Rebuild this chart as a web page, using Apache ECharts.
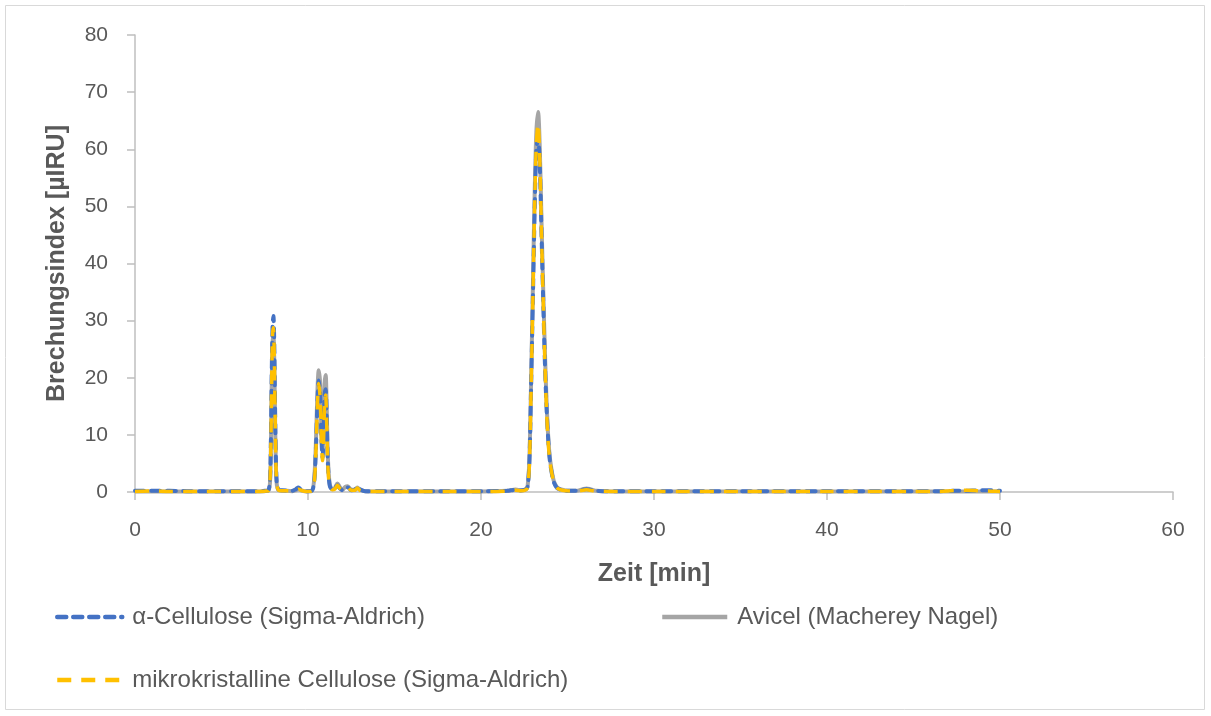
<!DOCTYPE html>
<html>
<head>
<meta charset="utf-8">
<script src="https://cdn.jsdelivr.net/npm/echarts@6/dist/echarts.min.js"></script>
<style>
html,body{margin:0;padding:0;background:#fff;}
#chart{width:1211px;height:716px;}
</style>
</head>
<body>
<div id="chart"></div>
<script>
// Retention time [min]
const times = [
  0, 1, 2, 3, 4, 5, 6, 7, 7.5,
  7.7, 7.8, 7.85, 7.9, 7.95, 8.0, 8.05, 8.1, 8.15, 8.2, 8.3, 8.5,
  8.8, 9.1, 9.3, 9.45, 9.6, 9.9, 10.2,
  10.35, 10.45, 10.55, 10.62, 10.7, 10.78, 10.84, 10.9, 10.96, 11.02, 11.08, 11.15, 11.25, 11.4,
  11.55, 11.7, 11.85, 12.0, 12.15, 12.3, 12.5, 12.7, 12.85, 13.0, 13.3, 14,
  16, 18, 20, 21.5, 22.0, 22.3,
  22.6, 22.7, 22.8, 22.9, 23.0, 23.1, 23.2, 23.3, 23.4, 23.5, 23.6, 23.7, 23.8, 23.9, 24.0, 24.2, 24.4, 24.7,
  25.0, 25.5, 25.9, 26.1, 26.3, 26.7, 27.5, 30, 35, 40, 45, 46.5, 47.3, 48, 48.8, 49.5, 50
];
const alphaCellulose = [
  0.2, 0.2, 0.2, 0.15, 0.15, 0.15, 0.15, 0.15, 0.2,
  0.3, 2, 8, 20, 29, 30.8, 26, 14, 5, 1.5, 0.4, 0.3,
  0.25, 0.2, 0.5, 0.8, 0.4, 0.15, 0.2,
  1.5, 7, 16, 19.5, 17, 9, 6, 10, 17, 18, 13, 5, 1.2, 0.4,
  0.6, 1.2, 0.6, 0.3, 0.7, 0.8, 0.3, 0.4, 0.9, 0.5, 0.15, 0.15,
  0.15, 0.15, 0.15, 0.2, 0.4, 0.25,
  0.5, 1.0, 5.5, 19, 34, 49, 60, 62, 57, 45, 33, 22, 14, 8.5, 5, 1.8, 0.7, 0.3,
  0.2, 0.2, 0.4, 0.5, 0.4, 0.2, 0.15, 0.15, 0.15, 0.15, 0.15, 0.15, 0.2, 0.2, 0.3, 0.3, 0.2
];
const avicel = [
  0.1, 0.1, 0.1, 0.1, 0.1, 0.1, 0.1, 0.1, 0.15,
  0.2, 1.5, 7, 18, 26, 27.5, 23, 12, 4, 1.2, 0.3, 0.2,
  0.2, 0.15, 0.3, 0.5, 0.3, 0.1, 0.15,
  2, 8, 18, 21.3, 19, 10, 7, 12, 19, 20.5, 15, 6, 1.5, 0.5,
  0.7, 1.5, 0.8, 0.4, 0.9, 1.0, 0.4, 0.4, 0.8, 0.4, 0.15, 0.1,
  0.1, 0.1, 0.1, 0.2, 0.45, 0.3,
  0.5, 1.2, 6, 20, 36, 52, 63, 66.5, 60, 47, 35, 24, 15, 9, 5.5, 2, 0.8, 0.4,
  0.2, 0.2, 0.5, 0.6, 0.5, 0.2, 0.1, 0.1, 0.1, 0.1, 0.1, 0.1, 0.1, 0.1, 0.1, 0.1, 0.1
];
const mikroCellulose = [
  0.1, 0.2, 0.1, 0.1, 0.1, 0.1, 0.1, 0.1, 0.15,
  0.2, 1.8, 7.5, 19, 27.5, 28.8, 24, 13, 4.5, 1.3, 0.3, 0.2,
  0.2, 0.15, 0.3, 0.5, 0.3, 0.1, 0.15,
  1.3, 6.5, 15.5, 19, 16.5, 8.5, 5.5, 9, 15.5, 17, 12, 4.5, 1, 0.4,
  0.5, 1.2, 0.6, 0.3, 0.7, 0.8, 0.3, 0.3, 0.7, 0.3, 0.1, 0.1,
  0.1, 0.1, 0.1, 0.15, 0.3, 0.2,
  0.4, 0.9, 5, 18.5, 34, 50, 61, 64.5, 58, 45, 33, 22, 13.5, 8, 5, 1.8, 0.7, 0.3,
  0.2, 0.15, 0.3, 0.4, 0.3, 0.15, 0.1, 0.1, 0.1, 0.1, 0.1, 0.1, 0.25, 0.3, 0.2, 0.15, 0.1
];
const seriesNames = ['α-Cellulose (Sigma-Aldrich)', 'Avicel (Macherey Nagel)', 'mikrokristalline Cellulose (Sigma-Aldrich)'];
const xTitle = 'Zeit [min]';
const yTitle = 'Brechungsindex [µIRU]';

const pair = arr => times.map((t, i) => [t, arr[i]]);
const FONT = 'Liberation Sans';
const TXT = '#595959';

const chart = echarts.init(document.getElementById('chart'), null, {renderer: 'canvas'});
const legendBase = {
  orient: 'horizontal', itemWidth: 65, itemHeight: 20, padding: 0, itemGap: 10,
  textStyle: {fontFamily: FONT, fontSize: 24, color: TXT, padding: [0, 0, 0, 5]},
  itemStyle: {opacity: 0},
  lineStyle: {width: 4.5},
  selectedMode: false
};
chart.setOption({
  animation: false,
  backgroundColor: '#fff',
  graphic: [{
    type: 'rect', shape: {x: 5.5, y: 5.5, width: 1199, height: 704},
    style: {fill: 'none', stroke: '#d9d9d9', lineWidth: 1}, silent: true
  }],
  grid: {left: 135, right: 38, top: 35, bottom: 224},
  legend: [
    Object.assign({}, legendBase, {left: 55, top: 605, data: [seriesNames[0]]}),
    Object.assign({}, legendBase, {left: 660, top: 605, data: [seriesNames[1]]}),
    Object.assign({}, legendBase, {left: 55, top: 668, data: [seriesNames[2]]})
  ],
  xAxis: {
    type: 'value', min: 0, max: 60, interval: 10,
    name: xTitle, nameLocation: 'middle', nameGap: 70,
    nameTextStyle: {fontFamily: FONT, fontSize: 25, fontWeight: 'bold', color: TXT},
    axisLine: {show: true, lineStyle: {color: '#bfbfbf', width: 1.5}},
    axisTick: {show: true, length: 8, lineStyle: {color: '#bfbfbf', width: 1.5}},
    axisLabel: {fontFamily: FONT, fontSize: 21, color: TXT, margin: 28},
    splitLine: {show: false}
  },
  yAxis: {
    type: 'value', min: 0, max: 80, interval: 10,
    name: yTitle, nameLocation: 'middle', nameGap: 65,
    nameTextStyle: {fontFamily: FONT, fontSize: 25, fontWeight: 'bold', color: TXT},
    axisLine: {show: true, lineStyle: {color: '#bfbfbf', width: 1.5}},
    axisTick: {show: true, length: 8, lineStyle: {color: '#bfbfbf', width: 1.5}},
    axisLabel: {fontFamily: FONT, fontSize: 21, color: TXT, margin: 27},
    splitLine: {show: false}
  },
  series: [
    {
      name: seriesNames[1], type: 'line', data: pair(avicel), symbol: 'none', smooth: 0.3, z: 2,
      lineStyle: {color: '#a5a5a5', width: 4, type: 'solid'},
      itemStyle: {color: '#a5a5a5'}
    },
    {
      name: seriesNames[0], type: 'line', data: pair(alphaCellulose), symbol: 'none', smooth: 0.3, z: 3,
      lineStyle: {color: '#4472c4', width: 4, type: [9, 7], cap: 'round'},
      itemStyle: {color: '#4472c4'}
    },
    {
      name: seriesNames[2], type: 'line', data: pair(mikroCellulose), symbol: 'none', smooth: 0.3, z: 4,
      lineStyle: {color: '#ffc000', width: 3.5, type: [14, 10]},
      itemStyle: {color: '#ffc000'}
    }
  ]
});
</script>
</body>
</html>
